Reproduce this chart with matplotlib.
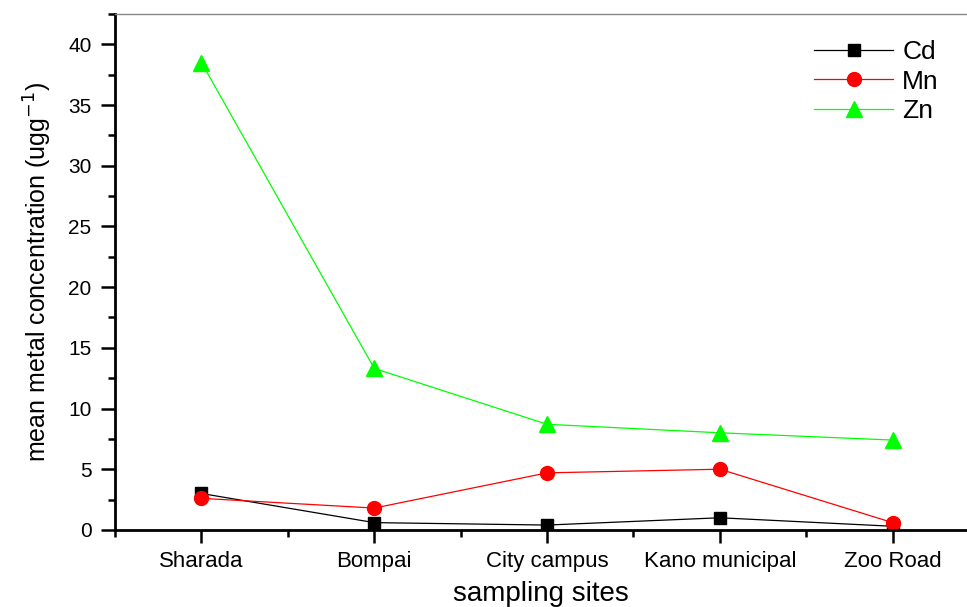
import numpy as np
import matplotlib.pyplot as plt
from matplotlib.ticker import MultipleLocator

plt.rcParams['font.family'] = ['Liberation Sans', 'DejaVu Sans']

sites = ["Sharada", "Bompai", "City campus", "Kano municipal", "Zoo Road"]
cd = [3.0, 0.6, 0.4, 1.0, 0.3]
mn = [2.6, 1.8, 4.7, 5.0, 0.6]
zn = [38.5, 13.3, 8.7, 8.0, 7.4]

x = np.arange(1, len(sites) + 1)

fig = plt.figure(figsize=(9.67, 6.07), dpi=100)
ax = fig.add_axes([0.119, 0.127, 0.881, 0.85])

ax.plot(x, cd, "-", color="black", lw=0.9, marker="s", ms=9, label="Cd")
ax.plot(x, mn, "-", color="red", lw=0.9, marker="o", ms=10, label="Mn")
ax.plot(x, zn, "-", color="#00ff00", lw=0.9, marker="^", ms=11, label="Zn")

ax.set_xlim(0.5, 5.43)
ax.set_ylim(0, 42.5)
ax.set_xticks(x)
ax.set_xticklabels(sites)
ax.xaxis.set_minor_locator(MultipleLocator(1.0, offset=0.5))
ax.yaxis.set_major_locator(MultipleLocator(5))
ax.yaxis.set_minor_locator(MultipleLocator(2.5))

ax.tick_params(which="major", direction="out", width=1.8)
ax.tick_params(which="minor", direction="out", length=5, width=1.8)
ax.tick_params(axis="x", which="major", length=9, labelsize=16, pad=6)
ax.tick_params(axis="y", which="major", length=10, labelsize=15, pad=7)

for side in ("left", "bottom"):
    ax.spines[side].set_linewidth(2)
ax.spines["top"].set_color("#888888")
ax.spines["top"].set_linewidth(1)
ax.spines["right"].set_visible(False)

ax.set_xlabel("sampling sites", fontsize=20)
ax.xaxis.label.set_va("baseline")
ax.xaxis.set_label_coords(0.5, -0.138)
ax.set_ylabel("mean metal concentration (ugg$^{-1}$)", fontsize=18, labelpad=10)

ax.legend(loc="upper right", frameon=False, fontsize=19, handlelength=3.0,
          handletextpad=0.35, labelspacing=0.2, borderaxespad=0.5,
          bbox_to_anchor=(0.995, 0.995))

fig.savefig("out.png", dpi=100)
